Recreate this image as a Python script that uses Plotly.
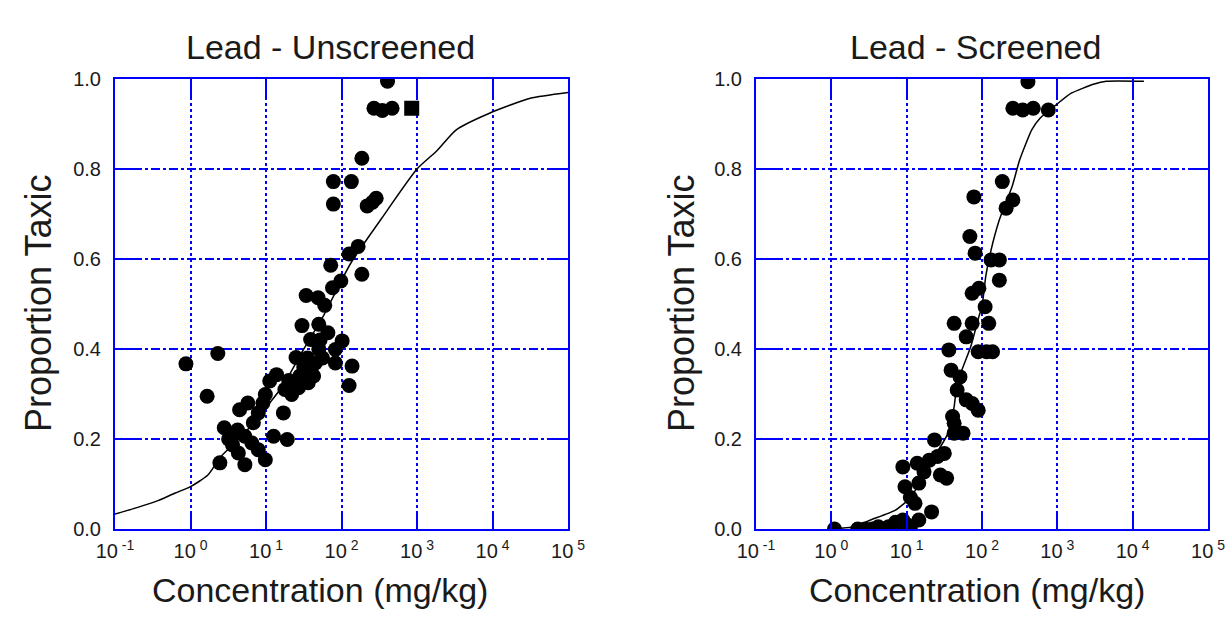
import plotly.graph_objects as go

# ---------------- data ----------------
# Left panel: Lead - Unscreened
unscreened_conc = [407, 269, 347, 468, 851, 186, 78, 135, 78, 219, 257, 288, 166, 126, 72, 186,
                   98, 76, 34, 49, 60, 30, 50, 66, 39, 102, 83, 50, 25, 45, 83, 138, 126, 0.87,
                   2.3, 1.66, 13.8, 11.2, 17.8, 26.9, 36.3, 42.7, 21.9, 9.8, 9.1, 5.75, 4.47, 17.0,
                   7.9, 6.8, 2.8, 3.9, 5.25, 12.6, 19.1, 3.6, 6.5, 7.9, 9.8, 2.45, 5.25, 4.3,
                   31.6, 28, 56, 40, 20, 3.2, 4.2, 52, 35.5]
unscreened_prop = [0.995, 0.935, 0.93, 0.935, 0.935, 0.824, 0.772, 0.772, 0.722, 0.718, 0.726, 0.735,
                   0.628, 0.611, 0.586, 0.566, 0.551, 0.536, 0.519, 0.514, 0.497, 0.452, 0.455, 0.436,
                   0.421, 0.418, 0.399, 0.40, 0.381, 0.369, 0.369, 0.362, 0.319, 0.367, 0.39, 0.295,
                   0.343, 0.329, 0.310, 0.314, 0.325, 0.340, 0.299, 0.299, 0.280, 0.280, 0.265, 0.258,
                   0.258, 0.236, 0.225, 0.213, 0.206, 0.206, 0.199, 0.187, 0.191, 0.176, 0.154, 0.147,
                   0.143, 0.169, 0.36, 0.34, 0.38, 0.36, 0.33, 0.20, 0.22, 0.42, 0.38]
unscreened_symbol = ["square" if i == 4 else "circle" for i in range(len(unscreened_conc))]

unscreened_curve_conc = [0.1, 0.2, 0.37, 0.63, 1.0, 1.7, 2.5, 5.0, 10, 17, 31.6, 56, 132, 339,
                         1000, 1820, 3310, 9120, 31600, 100000]
unscreened_curve_prop = [0.033, 0.048, 0.063, 0.080, 0.094, 0.12, 0.16, 0.21, 0.27, 0.32, 0.40,
                         0.47, 0.59, 0.69, 0.80, 0.84, 0.887, 0.924, 0.957, 0.970]

# Right panel: Lead - Screened
screened_conc = [1.1, 2.24, 2.8, 3.5, 4.2, 5.0, 5.75, 6.6, 7.6, 8.9, 10, 11.2, 7.1, 8.9,
                 14.5, 21.4, 12.9,
                 8.9, 13.8, 17, 20, 9.5, 14.5, 33.9, 25.7, 31.6, 23.4, 42.7, 56, 42.7, 40.7,
                 38.9, 51, 46.8, 61.7, 74, 89, 36.3, 89, 115, 138, 61.7, 42.7, 74, 123, 110, 74,
                 91, 170, 132, 170, 81, 69, 209, 257, 78, 186, 257, 347, 479, 759, 407, 28, 11.2]
screened_prop = [0.0, 0.0, 0.0, 0.0, 0.005, 0.0, 0.005, 0.0, 0.01, 0.0, 0.01, 0.005, 0.015, 0.02,
                 0.02, 0.038, 0.057,
                 0.138, 0.146, 0.127, 0.153, 0.094, 0.102, 0.113, 0.161, 0.168, 0.198, 0.213, 0.213,
                 0.235, 0.25, 0.353, 0.338, 0.309, 0.287, 0.279, 0.264, 0.398, 0.394, 0.394, 0.394,
                 0.427, 0.457, 0.457, 0.457, 0.494, 0.524, 0.535, 0.553, 0.598, 0.598, 0.613, 0.65,
                 0.713, 0.731, 0.738, 0.772, 0.935, 0.931, 0.935, 0.931, 0.994, 0.12, 0.07]

screened_curve_conc = [1.0, 2.0, 3.3, 7.1, 11.7, 15.8, 23.4, 35.5, 42.7, 46.8, 70.8, 91, 100, 112,
                       132, 170, 251, 316, 457, 589, 955, 1510, 3090, 4470, 14100]
screened_curve_prop = [0.0, 0.005, 0.02, 0.042, 0.072, 0.116, 0.161, 0.213, 0.272, 0.324, 0.405,
                       0.472, 0.494, 0.561, 0.62, 0.687, 0.761, 0.82, 0.887, 0.913, 0.942, 0.968,
                       0.989, 0.995, 0.995]

x_tickvals = [0.1, 1, 10, 100, 1000, 10000, 100000]
x_ticktext = ["10<sup> -1</sup>", "10<sup> 0</sup>", "10<sup> 1</sup>", "10<sup> 2</sup>",
              "10<sup> 3</sup>", "10<sup> 4</sup>", "10<sup> 5</sup>"]
y_tickvals = [0.0, 0.2, 0.4, 0.6, 0.8, 1.0]
y_ticktext = ["0.0", "0.2", "0.4", "0.6", "0.8", "1.0"]

panel_titles = ["Lead - Unscreened", "Lead - Screened"]
x_title = "Concentration (mg/kg)"
y_title = "Proportion Taxic"

# ---------------- figure ----------------
W, H = 1228, 617
BLUE = "#0000ff"
FONT = "Liberation Sans, Arial, sans-serif"
TXT = "#1a1a1a"

fig = go.Figure()

fig.add_trace(go.Scatter(x=unscreened_curve_conc, y=unscreened_curve_prop, mode="lines",
                         line=dict(color="black", width=1.5, shape="spline", smoothing=0.6),
                         xaxis="x", yaxis="y", showlegend=False, hoverinfo="skip"))
fig.add_trace(go.Scatter(x=unscreened_conc, y=unscreened_prop, mode="markers",
                         marker=dict(color="black", size=15, symbol=unscreened_symbol),
                         xaxis="x", yaxis="y", showlegend=False))
fig.add_trace(go.Scatter(x=screened_curve_conc, y=screened_curve_prop, mode="lines",
                         line=dict(color="black", width=1.5, shape="spline", smoothing=0.5),
                         xaxis="x2", yaxis="y2", showlegend=False, hoverinfo="skip"))
fig.add_trace(go.Scatter(x=screened_conc, y=screened_prop, mode="markers",
                         marker=dict(color="black", size=15),
                         xaxis="x2", yaxis="y2", showlegend=False))

def px_x(p):
    return p / W

def px_y(p):
    return 1 - p / H

common_x = dict(type="log", range=[-1, 5], tickvals=x_tickvals, ticktext=x_ticktext,
                ticks="inside", ticklen=18, tickwidth=2, tickcolor=BLUE,
                showline=True, linewidth=2, linecolor=BLUE, mirror="ticks",
                showgrid=True, gridcolor=BLUE, gridwidth=2, griddash="dot",
                zeroline=False, tickfont=dict(family=FONT, size=20, color=TXT),
                ticklabelstandoff=3, automargin=False)
common_y = dict(range=[0, 1], tickvals=y_tickvals, ticktext=y_ticktext,
                ticks="inside", ticklen=18, tickwidth=2, tickcolor=BLUE,
                showline=True, linewidth=2, linecolor=BLUE, mirror="ticks",
                showgrid=True, gridcolor=BLUE, gridwidth=2, griddash="dashdot",
                zeroline=False, tickfont=dict(family=FONT, size=20, color=TXT),
                ticklabelstandoff=8, automargin=False)

ydom = [px_y(529), px_y(79)]
fig.update_layout(
    width=W, height=H,
    margin=dict(l=0, r=0, t=0, b=0, pad=0, autoexpand=False),
    paper_bgcolor="white", plot_bgcolor="white",
    xaxis=dict(domain=[px_x(115), px_x(568)], anchor="y", **common_x),
    yaxis=dict(domain=ydom, anchor="x", **common_y),
    xaxis2=dict(domain=[px_x(756), px_x(1208)], anchor="y2", **common_x),
    yaxis2=dict(domain=ydom, anchor="x2", **common_y),
)

annots = []
for cx, title in zip([330, 975], panel_titles):
    annots.append(dict(x=px_x(cx), y=px_y(47), xref="paper", yref="paper", text=title,
                       showarrow=False, font=dict(family=FONT, size=34, color=TXT),
                       xanchor="center", yanchor="middle"))
for cx in [320, 977]:
    annots.append(dict(x=px_x(cx), y=px_y(590), xref="paper", yref="paper", text=x_title,
                       showarrow=False, font=dict(family=FONT, size=34, color=TXT),
                       xanchor="center", yanchor="middle"))
for cx in [38, 681]:
    annots.append(dict(x=px_x(cx), y=px_y(304), xref="paper", yref="paper", text=y_title,
                       textangle=-90, showarrow=False, font=dict(family=FONT, size=36, color=TXT),
                       xanchor="center", yanchor="middle"))
fig.update_layout(annotations=annots)

fig.write_html("out.html", config={"displayModeBar": False},
               post_script="document.body.style.margin='0px';document.body.style.overflow='hidden';")
